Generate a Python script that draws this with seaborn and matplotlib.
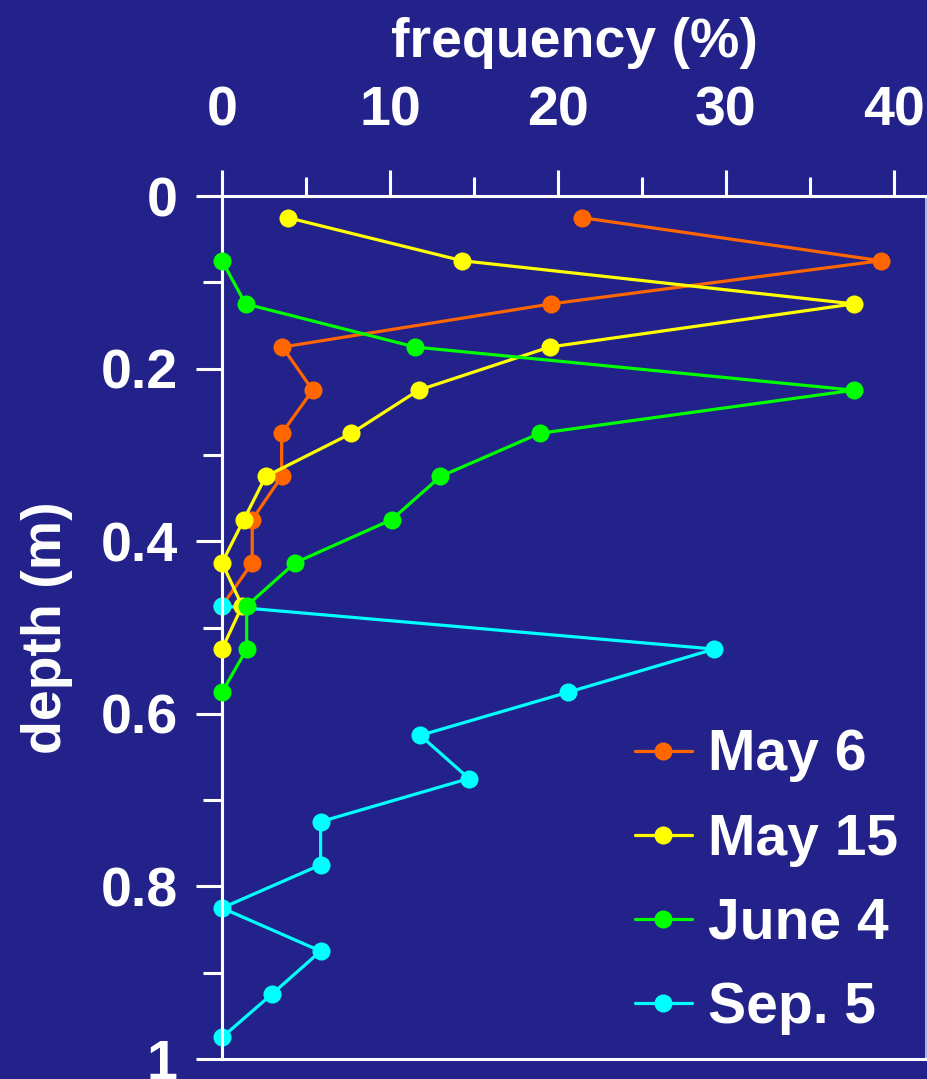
import matplotlib
matplotlib.use("Agg")
import matplotlib.pyplot as plt
from matplotlib.lines import Line2D
from matplotlib.ticker import MultipleLocator, FixedLocator
import seaborn as sns
import pandas as pd

# ---- data ----
depth_may6 = [0.025, 0.075, 0.125, 0.175, 0.225, 0.275, 0.325, 0.375, 0.425, 0.475]
freq_may6 = [21.4, 39.2, 19.6, 3.6, 5.4, 3.55, 3.55, 1.8, 1.8, 0.0]

depth_may15 = [0.025, 0.075, 0.125, 0.175, 0.225, 0.275, 0.325, 0.375, 0.425, 0.475, 0.525]
freq_may15 = [3.9, 14.3, 37.6, 19.5, 11.7, 7.7, 2.6, 1.3, 0.0, 1.2, 0.0]

depth_jun4 = [0.075, 0.125, 0.175, 0.225, 0.275, 0.325, 0.375, 0.425, 0.475, 0.525, 0.575]
freq_jun4 = [0.0, 1.4, 11.5, 37.6, 18.9, 13.0, 10.1, 4.35, 1.47, 1.47, 0.0]

depth_sep5 = [0.475, 0.525, 0.575, 0.625, 0.675, 0.725, 0.775, 0.825, 0.875, 0.925, 0.975]
freq_sep5 = [0.0, 29.3, 20.6, 11.8, 14.7, 5.87, 5.87, 0.0, 5.87, 2.96, 0.0]

series_names = ["May 6", "May 15", "June 4", "Sep. 5"]
series_colors = ["#FF6600", "#FFFF00", "#00FF00", "#00FFFF"]
series_depths = [depth_may6, depth_may15, depth_jun4, depth_sep5]
series_freqs = [freq_may6, freq_may15, freq_jun4, freq_sep5]
series_z = [2.0, 3.0, 4.0, 2.5]

x_ticks = [0, 10, 20, 30, 40]
y_ticks = [0, 0.2, 0.4, 0.6, 0.8, 1.0]
y_tick_labels = ["0", "0.2", "0.4", "0.6", "0.8", "1"]

BG = "#22228A"
FG = "white"

sns.set_theme(style="white")
plt.rcParams["font.family"] = ["Liberation Sans", "DejaVu Sans"]
plt.rcParams["font.weight"] = "bold"

fig = plt.figure(figsize=(9.28, 10.79), dpi=100)
fig.patch.set_facecolor(BG)
ax = fig.add_axes([222 / 928, 1 - 1059 / 1079, (926 - 222) / 928, (1059 - 196) / 1079])
ax.set_facecolor(BG)

frames = []
for name, d, f in zip(series_names, series_depths, series_freqs):
    frames.append(pd.DataFrame({"depth": d, "freq": f, "date": name}))
df = pd.concat(frames, ignore_index=True)

handles = []
for name, color, z in zip(series_names, series_colors, series_z):
    sub = df[df["date"] == name]
    sns.lineplot(data=sub, x="freq", y="depth", sort=False, estimator=None,
                 color=color, lw=2.3, marker="o", markersize=13,
                 markeredgewidth=0, zorder=z, ax=ax, legend=False,
                 clip_on=False)
    handles.append(Line2D([], [], color=color, lw=2.3, marker="o",
                          markersize=13, markeredgewidth=0))

ax.set_xlim(0, 41.9)
ax.set_ylim(1.0, 0.0)

ax.xaxis.tick_top()
ax.xaxis.set_label_position("top")
ax.xaxis.set_major_locator(FixedLocator(x_ticks))
ax.xaxis.set_minor_locator(MultipleLocator(5))
ax.set_xticklabels([str(v) for v in x_ticks])
ax.yaxis.set_major_locator(FixedLocator(y_ticks))
ax.set_yticklabels(y_tick_labels)
ax.yaxis.set_minor_locator(MultipleLocator(0.1))

ax.tick_params(axis="x", which="major", direction="out", length=19, width=2.2,
               color=FG, labelcolor=FG, labelsize=40, pad=23,
               top=True, bottom=False)
ax.tick_params(axis="x", which="minor", direction="out", length=14, width=2.2,
               color=FG, top=True, bottom=False)
ax.tick_params(axis="y", which="major", direction="out", length=19, width=2.2,
               color=FG, labelcolor=FG, labelsize=40, pad=13, left=True)
ax.tick_params(axis="y", which="minor", direction="out", length=14, width=2.2,
               color=FG, left=True)

for s in ["left", "top", "bottom"]:
    ax.spines[s].set_color(FG)
    ax.spines[s].set_linewidth(2.2)
ax.spines["right"].set_color("#B0B0D8")
ax.spines["right"].set_linewidth(2.2)

ax.set_xlabel("frequency (%)", color=FG, fontsize=40, fontweight="bold", labelpad=21)
ax.set_ylabel("depth (m)", color=FG, fontsize=40, fontweight="bold", labelpad=20)

leg = ax.legend(handles, series_names, loc="lower right",
                bbox_to_anchor=(898 / 928, 1 - 1035 / 1079),
                bbox_transform=fig.transFigure, frameon=False,
                fontsize=41, handlelength=1.0, handletextpad=0.28,
                labelspacing=0.53, borderpad=0, borderaxespad=0)
for t in leg.get_texts():
    t.set_color(FG)
    t.set_fontweight("bold")

fig.savefig("out.png", dpi=100, facecolor=BG)
